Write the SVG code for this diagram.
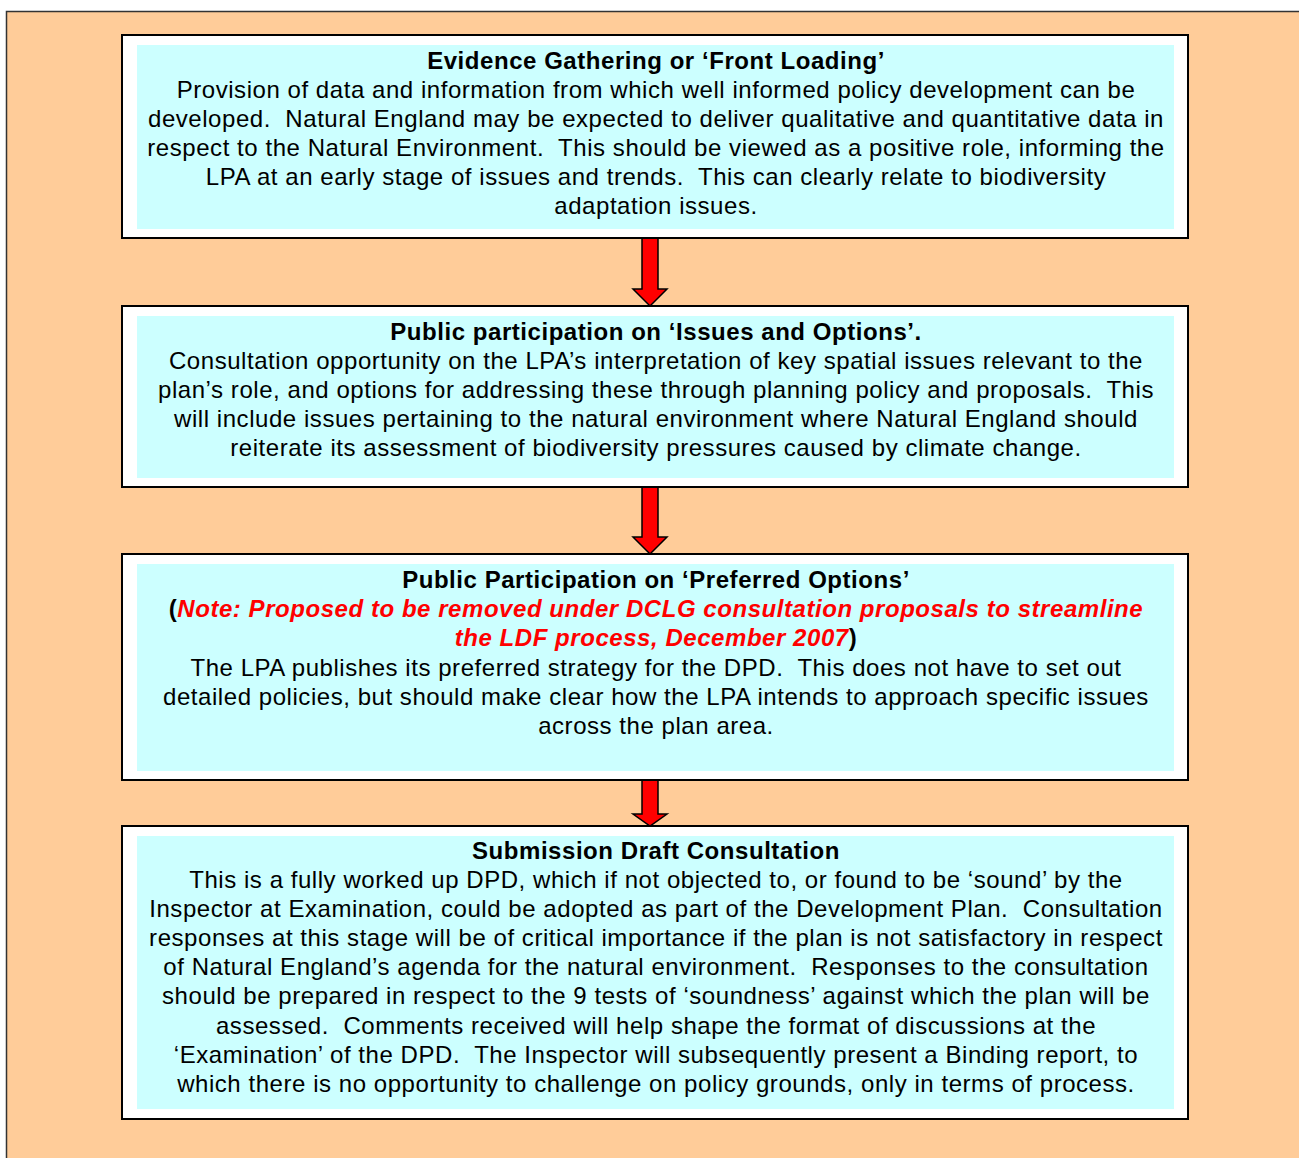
<svg xmlns="http://www.w3.org/2000/svg" width="1299" height="1158" viewBox="0 0 1299 1158">
<style>
.box{fill:#ffffff;stroke:#000000;stroke-width:2}
.inner{fill:#ccffff}
text{font-family:"Liberation Sans",Arial,sans-serif;font-size:24px;letter-spacing:0.55px;fill:#000000;text-anchor:middle;white-space:pre}
.t{font-weight:bold}
.red{fill:#ff0000;font-weight:bold;font-style:italic}
.arrow{fill:#ff0000;stroke:#000000;stroke-width:1.5;stroke-linejoin:miter}
</style>
<rect x="0" y="0" width="1299" height="1158" fill="#ffffff"/>
<rect x="6.5" y="11.5" width="1300" height="1160" fill="#ffcc99" stroke="#333333" stroke-width="1.5"/>
<g id="connectors">
<path class="arrow" d="M642,238 L658,238 L658,289 L667,289 L650,306 L633,289 L642,289 Z"/>
<path class="arrow" d="M642,487 L658,487 L658,537 L667,537 L650,554 L633,537 L642,537 Z"/>
<path class="arrow" d="M642,780 L658,780 L658,814 L667,814 L650,826 L633,814 L642,814 Z"/>
</g>
<g id="node1">
<rect class="box" x="122" y="35" width="1066" height="203"/>
<rect class="inner" x="137" y="45" width="1037" height="184"/>
<text class="t" x="656" y="69">Evidence Gathering or ‘Front Loading’</text>
<text x="656" y="98">Provision of data and information from which well informed policy development can be</text>
<text x="656" y="127">developed.  Natural England may be expected to deliver qualitative and quantitative data in</text>
<text x="656" y="156">respect to the Natural Environment.  This should be viewed as a positive role, informing the</text>
<text x="656" y="185">LPA at an early stage of issues and trends.  This can clearly relate to biodiversity</text>
<text x="656" y="214">adaptation issues.</text>
</g>
<g id="node2">
<rect class="box" x="122" y="306" width="1066" height="181"/>
<rect class="inner" x="137" y="316" width="1037" height="162"/>
<text class="t" x="656" y="340">Public participation on ‘Issues and Options’.</text>
<text x="656" y="369">Consultation opportunity on the LPA’s interpretation of key spatial issues relevant to the</text>
<text x="656" y="398">plan’s role, and options for addressing these through planning policy and proposals.  This</text>
<text x="656" y="427">will include issues pertaining to the natural environment where Natural England should</text>
<text x="656" y="456">reiterate its assessment of biodiversity pressures caused by climate change.</text>
</g>
<g id="node3">
<rect class="box" x="122" y="554" width="1066" height="226"/>
<rect class="inner" x="137" y="564" width="1037" height="207"/>
<text class="t" x="656" y="588">Public Participation on ‘Preferred Options’</text>
<text x="656" y="617"><tspan class="t">(</tspan><tspan class="red">Note: Proposed to be removed under DCLG consultation proposals to streamline</tspan></text>
<text x="656" y="646"><tspan class="red">the LDF process, December 2007</tspan><tspan class="t">)</tspan></text>
<text x="656" y="676">The LPA publishes its preferred strategy for the DPD.  This does not have to set out</text>
<text x="656" y="705">detailed policies, but should make clear how the LPA intends to approach specific issues</text>
<text x="656" y="734">across the plan area.</text>
</g>
<g id="node4">
<rect class="box" x="122" y="826" width="1066" height="293"/>
<rect class="inner" x="137" y="836" width="1037" height="273"/>
<text class="t" x="656" y="859">Submission Draft Consultation</text>
<text x="656" y="888">This is a fully worked up DPD, which if not objected to, or found to be ‘sound’ by the</text>
<text x="656" y="917">Inspector at Examination, could be adopted as part of the Development Plan.  Consultation</text>
<text x="656" y="946">responses at this stage will be of critical importance if the plan is not satisfactory in respect</text>
<text x="656" y="975">of Natural England’s agenda for the natural environment.  Responses to the consultation</text>
<text x="656" y="1004">should be prepared in respect to the 9 tests of ‘soundness’ against which the plan will be</text>
<text x="656" y="1034">assessed.  Comments received will help shape the format of discussions at the</text>
<text x="656" y="1063">‘Examination’ of the DPD.  The Inspector will subsequently present a Binding report, to</text>
<text x="656" y="1092">which there is no opportunity to challenge on policy grounds, only in terms of process.</text>
</g>
</svg>
